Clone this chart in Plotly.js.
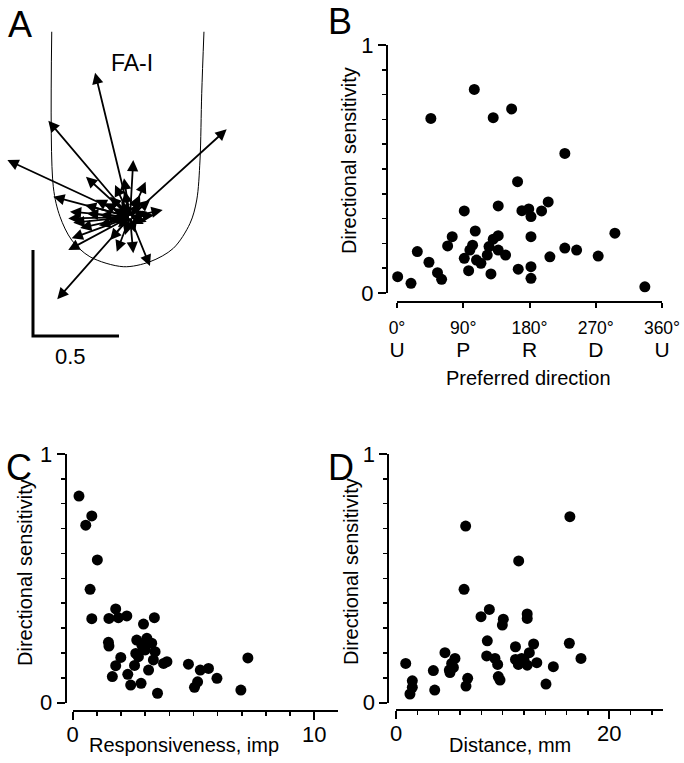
<!DOCTYPE html>
<html>
<head>
<meta charset="utf-8">
<script src="https://cdn.plot.ly/plotly-3.0.1.min.js"></script>
<style>html,body{margin:0;padding:0;background:#fff;}#chart{width:684px;height:763px;}</style>
</head>
<body>
<div id="chart"></div>
<script>
// ---- Panel A: direction vectors (units of the 0.5 scale bar) ----
const arrowDx = [-0.203,-0.475,-0.713,0.562,0.019,0.091,-0.035,-0.256,-0.446,0.190,-0.349,-0.359,-0.330,-0.339,-0.359,-0.423,0.116,0.019,-0.077,0.097,-0.116,0.058,-0.058,-0.290,-0.116,-0.174,0.116,-0.029,-0.262,-0.087,0.06,-0.05,0.08,-0.10,-0.07,0.03,0.10,-0.12,0.05,-0.03,-0.15,-0.20,0.14,-0.18,-0.25];
const arrowDy = [0.839,0.560,0.331,0.510,0.331,0.205,0.225,0.234,0.118,0.041,0.031,-0.008,-0.033,-0.124,-0.192,-0.478,-0.285,-0.211,-0.202,-0.027,0.118,0.128,0.070,-0.064,-0.134,0.012,0.099,-0.105,0.070,0.186,0.08,0.09,-0.04,0.05,-0.06,-0.09,0.03,-0.02,0.12,0.15,0.08,0.10,0.01,-0.05,0.02];
const fingerX = [-0.455,-0.446,-0.407,-0.339,-0.233,-0.039,0.116,0.252,0.349,0.388,0.407,0.417,0.430];
const fingerY = [1.077,0.176,0.002,-0.134,-0.231,-0.289,-0.260,-0.182,-0.037,0.099,0.331,0.719,1.077];
const scaleX = [-0.564,-0.564,-0.064];
const scaleY = [-0.192,-0.692,-0.692];

// ---- Panel B ----
const prefDir = [0.9,19,27.6,43.4,46,55,60.6,68.8,75,91.4,91.4,97.3,99,102.7,105,106.3,108,114,122.6,125,127.6,130.7,130.7,137.5,137.5,137.5,147.5,155.7,163.8,164.7,169.7,179,182,182,182,182,196.4,205.4,207.7,228,228,244,273.3,296,336.7];
const dsB = [0.066,0.039,0.167,0.124,0.704,0.082,0.055,0.19,0.227,0.331,0.14,0.09,0.173,0.193,0.821,0.25,0.133,0.12,0.153,0.187,0.077,0.707,0.217,0.351,0.231,0.173,0.153,0.742,0.449,0.096,0.332,0.339,0.308,0.227,0.106,0.059,0.331,0.367,0.146,0.563,0.181,0.173,0.149,0.241,0.025];
const dirTicks = [0,90,180,270,360];
const dirLabels = ['0°','90°','180°','270°','360°'];
const dirLetters = ['U','P','R','D','U'];

// ---- Panel C ----
const respC = [0.26,0.54,0.79,1.02,0.72,0.79,1.5,1.78,1.89,2.24,1.48,1.5,1.64,1.78,1.99,2.28,2.4,2.56,2.61,2.65,2.83,2.93,3.0,3.07,3.14,3.27,3.34,3.38,3.41,3.51,3.76,3.9,2.72,2.86,4.79,5.04,5.17,5.28,5.62,5.97,6.96,7.25];
const dsC = [0.831,0.714,0.751,0.574,0.456,0.338,0.339,0.377,0.342,0.349,0.243,0.228,0.105,0.149,0.182,0.114,0.071,0.150,0.198,0.252,0.078,0.316,0.212,0.259,0.131,0.239,0.172,0.342,0.205,0.038,0.158,0.165,0.185,0.232,0.155,0.062,0.084,0.131,0.138,0.098,0.051,0.180];

// ---- Panel D ----
const distD = [0.91,1.53,1.53,1.31,3.5,3.63,4.59,5.0,5.22,5.53,5.38,5.06,6.53,6.38,6.72,6.56,7.97,8.75,8.56,8.5,9.28,9.53,9.59,9.75,10.06,9.97,11.2,11.2,11.5,11.47,11.78,12.3,12.3,12.3,12.5,12.9,13.2,14.06,14.75,16.3,16.25,17.34,12.0];
const dsD = [0.158,0.088,0.062,0.035,0.129,0.051,0.201,0.131,0.158,0.178,0.142,0.121,0.710,0.456,0.098,0.067,0.346,0.375,0.249,0.188,0.178,0.154,0.105,0.091,0.336,0.312,0.225,0.174,0.570,0.154,0.178,0.357,0.339,0.151,0.201,0.236,0.161,0.075,0.145,0.748,0.239,0.178,0.172];

const FONT = 'Liberation Sans, Arial, sans-serif';
const W = 684, H = 763;
const px = v => v / W;
const py = v => 1 - v / H;

const dot = {color:'#000', size: 11};
const traces = [
  {type:'scatter', mode:'lines', x: fingerX, y: fingerY, xaxis:'x', yaxis:'y',
   line:{color:'#000', width:1, shape:'spline', smoothing:0.9}, hoverinfo:'skip'},
  {type:'scatter', mode:'lines', x: scaleX, y: scaleY, xaxis:'x', yaxis:'y',
   line:{color:'#000', width:3}, hoverinfo:'skip'},
  {type:'scatter', mode:'markers', x: prefDir, y: dsB, xaxis:'x2', yaxis:'y2', marker: dot, cliponaxis:false},
  {type:'scatter', mode:'markers', x: respC, y: dsC, xaxis:'x3', yaxis:'y3', marker: dot, cliponaxis:false},
  {type:'scatter', mode:'markers', x: distD, y: dsD, xaxis:'x4', yaxis:'y4', marker: dot, cliponaxis:false}
];

const baseAx = {showgrid:false, zeroline:false, showline:true, linecolor:'#000', linewidth:2,
  ticks:'outside', tickcolor:'#000', tickwidth:2, fixedrange:true,
  tickfont:{family:FONT, size:22, color:'#000'}};
const minorY = {dtick:0.1, ticklen:4, tickwidth:1.5, ticks:'outside', tickcolor:'#000', showgrid:false};

const annotations = [];
for (let i = 0; i < arrowDx.length; i++) {
  annotations.push({xref:'x', yref:'y', axref:'x', ayref:'y', x: arrowDx[i], y: arrowDy[i], ax: 0, ay: 0,
    text:'', showarrow:true, arrowhead:2, arrowsize:1.25, arrowwidth:1.8, arrowcolor:'#000', standoff:0});
}
function lab(text, x, y, size, angle) {
  annotations.push({xref:'paper', yref:'paper', x: px(x), y: py(y), xanchor:'center', yanchor:'middle',
    text: text, showarrow:false, textangle: angle || 0, font:{family: FONT, size:size, color:'#000'}});
}
lab('A', 20, 24, 36); lab('B', 340, 22, 36); lab('C', 19, 467, 36); lab('D', 341, 467, 36);
lab('FA-I', 132, 63, 23);
lab('0.5', 70, 356, 22);
lab('Directional sensitivity', 349, 160, 20, -90);
lab('Preferred direction', 528, 378, 20);
lab('Directional sensitivity', 25, 573, 20, -90);
lab('Responsiveness, imp', 183.5, 745, 20);
lab('Directional sensitivity', 351, 572, 20, -90);
lab('Distance, mm', 510, 745, 20);

const layout = {
  width: W, height: H, margin:{l:0, r:0, t:0, b:0}, paper_bgcolor:'#fff', plot_bgcolor:'rgba(0,0,0,0)',
  showlegend:false, font:{family:FONT, color:'#000'},
  xaxis:{domain:[0, px(250)], range:[-130/172, 120/172], visible:false, fixedrange:true},
  yaxis:{domain:[py(360), 1], range:[(217-360)/172, 217/172], visible:false, fixedrange:true},
  xaxis2: Object.assign({}, baseAx, {domain:[px(397), px(662)], range:[0,360], anchor:'free', position: py(302),
    tickmode:'array', tickvals: dirTicks,
    ticktext: dirTicks.map((t,i)=> dirLabels[i] + '<br><span style="font-size:21px">' + dirLetters[i] + '</span>'),
    ticklen:5, ticklabelstandoff:5, tickfont:{family:FONT, size:17.5, color:'#000'}}),
  yaxis2: Object.assign({}, baseAx, {domain:[py(293), py(45)], range:[0,1], anchor:'free', position: px(387),
    tick0:0, dtick:1, ticklen:8, minor:minorY}),
  xaxis3: Object.assign({}, baseAx, {domain:[px(72.7), px(338)], range:[0,10.98], anchor:'free', position: py(711),
    tick0:0, dtick:10, ticklen:8, ticklabelstandoff:-4, minor:{dtick:1, ticklen:4, tickwidth:1.5, ticks:'outside', tickcolor:'#000', showgrid:false}}),
  yaxis3: Object.assign({}, baseAx, {domain:[py(702.7), py(454)], range:[0,1], anchor:'free', position: px(65.7),
    tick0:0, dtick:1, ticklen:8, minor:minorY}),
  xaxis4: Object.assign({}, baseAx, {domain:[px(396), px(663)], range:[0,25.03], anchor:'free', position: py(710),
    tick0:0, dtick:20, ticklen:8, ticklabelstandoff:-4, minor:{dtick:2, ticklen:4, tickwidth:1.5, ticks:'outside', tickcolor:'#000', showgrid:false}}),
  yaxis4: Object.assign({}, baseAx, {domain:[py(702.7), py(454)], range:[0,1], anchor:'free', position: px(388.3),
    tick0:0, dtick:1, ticklen:8, minor:minorY}),
  annotations: annotations
};

Plotly.newPlot('chart', traces, layout, {staticPlot:true, displayModeBar:false});
</script>
</body>
</html>
